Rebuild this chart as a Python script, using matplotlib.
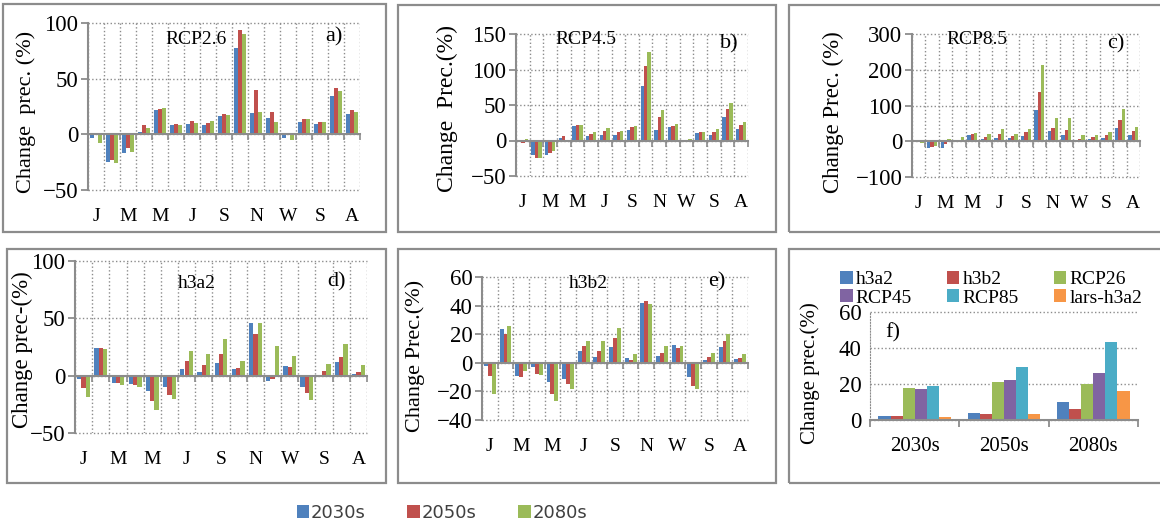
import numpy as np
import matplotlib
matplotlib.use("Agg")
import matplotlib.pyplot as plt
from matplotlib.patches import Rectangle

plt.rcParams['font.family'] = 'Liberation Serif'

# 17 categories: 12 months, 4 seasons, annual
categories = ["Jan", "Feb", "Mar", "Apr", "May", "Jun", "Jul", "Aug", "Sep",
              "Oct", "Nov", "Dec", "Win", "Spr", "Sum", "Aut", "Ann"]
tick_labels = ["J", "M", "M", "J", "S", "N", "W", "S", "A"]
periods = ["2030s", "2050s", "2080s"]
period_colors = ["#4F81BD", "#C0504D", "#9BBB59"]

# values per period (2030s, 2050s, 2080s)
rcp26 = [
    [-3.5, -25, -17, 2, 22, 8, 9, 8.5, 16.5, 77.5, 19.5, 14.5, -3, 11, 9.5, 34.5, 18],
    [0, -23, -12.5, 8, 23, 9, 12, 10, 18, 94, 40, 20, 1, 14, 11.5, 42, 22],
    [-7.5, -26, -16, 6, 24, 8, 10, 12, 17, 90, 20, 11, -5.5, 14, 11, 39, 20],
]
rcp45 = [
    [0.5, -21, -20.5, 4, 21, 6, 7.5, 7.5, 14.5, 76.5, 15, 19, 0.3, 11, 8, 33, 16.5],
    [-3, -25, -17, 6, 22.5, 8.5, 13.5, 11.5, 19, 104.5, 33.5, 20, 0.3, 12, 12, 45, 22.5],
    [2, -25, -15, 0.5, 22.5, 11.5, 18, 13, 21, 125, 43, 23.5, 1.5, 11.5, 15.5, 53, 26],
]
rcp85 = [
    [-2, -20, -20, 0.5, 17, 6.5, 9, 9.5, 15, 87, 28, 18.5, 0.5, 6.5, 9.5, 36.5, 18],
    [-2, -16, -9, 0.5, 19.5, 12, 19.5, 15, 24.5, 138, 37, 32, 6.5, 12, 17, 59, 28],
    [-4.5, -13, 5.5, 11, 24, 21.5, 33, 21.5, 35.5, 213, 66, 65, 18.5, 18, 26, 89, 39],
]
h3a2 = [
    [-3, 24, -6, -7, -13.5, -10, 6, 3.5, 11, 6, 46, -5, 8.5, -10, 0.5, 12, 1.5],
    [-11, 24.5, -6, -8, -22, -16.5, 12.5, 9, 19, 6.5, 36, -2.5, 7.5, -15.5, 4, 16, 3.5],
    [-18.5, 23.5, -8, -10, -30, -20, 21.5, 19, 32, 13, 46, 26, 17, -21, 10.5, 27.5, 9.5],
]
h3b2 = [
    [-2, 23.5, -9.5, -3, -13.5, -11, 8.5, 4, 11, 3.5, 42, 4.5, 12.5, -10, 2, 11, 2.5],
    [-9, 20, -10, -8, -22, -14.5, 11.5, 8.5, 17.5, 2, 43, 7, 10.5, -16.5, 4, 15, 3.5],
    [-21.5, 26, -6, -8.5, -26.5, -18, 15.5, 15.5, 24.5, 6, 41, 11.5, 11.5, -18, 7, 20, 6],
]

# panel f: mean annual change per scenario
scenarios = ["h3a2", "h3b2", "RCP26", "RCP45", "RCP85", "lars-h3a2"]
scenario_colors = ["#4F81BD", "#C0504D", "#9BBB59", "#8064A2", "#4BACC6", "#F79646"]
h3a2_f = [2, 4, 9.8]
h3b2_f = [2.3, 3.5, 6]
rcp26_f = [18, 21, 20]
rcp45_f = [17, 22.5, 26]
rcp85_f = [19, 29.5, 43.5]
lars_f = [1.5, 3.5, 16]
panel_f = [h3a2_f, h3b2_f, rcp26_f, rcp45_f, rcp85_f, lars_f]

W, H = 1160, 525
GRAY = "#8c8c8c"

fig = plt.figure(figsize=(W / 100, H / 100), dpi=100)


def box(x0, y0, x1, y1):
    return [x0 / W, 1 - y1 / H, (x1 - x0) / W, (y1 - y0) / H]


def ftext(x, y, s, **kw):
    fig.text(x / W, 1 - y / H, s, ha='center', va='center', **kw)


# panel frames
for x0, y0, x1, y1 in [(3, 4, 386, 232), (398, 5, 776, 232), (789, 5, 1163, 232),
                       (7, 249, 386, 483), (398, 249, 776, 483), (789, 249, 1163, 483)]:
    fig.patches.append(Rectangle((x0 / W, 1 - y1 / H), (x1 - x0) / W, (y1 - y0) / H,
                                 transform=fig.transFigure, fill=False,
                                 edgecolor=GRAY, lw=1.6))


def month_panel(rect, data, ylim, step):
    ax = fig.add_axes(box(*rect))
    x = np.arange(len(categories))
    bars = []
    for i, (vals, c) in enumerate(zip(data, period_colors)):
        bars.append(ax.bar(x + (i - 1) * 0.25, vals, width=0.25, color=c))
    ax.set_xlim(-0.5, len(categories) - 0.5)
    ax.set_ylim(*ylim)
    ax.set_yticks(np.arange(ylim[0], ylim[1] + 1, step))
    ax.set_xticks(np.arange(len(categories) + 1) - 0.5)
    ax.set_xticklabels([])
    ax.set_axisbelow(True)
    ax.grid(True, ls=':', color=GRAY, lw=1)
    for gl in ax.get_xgridlines() + ax.get_ygridlines():
        gl.set_clip_on(False)
    ax.spines['bottom'].set_position(('data', 0))
    ax.spines['bottom'].set_color(GRAY)
    ax.spines['bottom'].set_linewidth(1.5)
    ax.spines['left'].set_color(GRAY)
    ax.spines['left'].set_linewidth(1.5)
    ax.spines['top'].set_visible(False)
    ax.spines['right'].set_visible(False)
    ax.tick_params(axis='y', length=5, width=1.3, color=GRAY, labelsize=16.5, pad=2)
    ax.tick_params(axis='x', length=4, width=1.2, color=GRAY)
    sec = ax.secondary_xaxis('bottom')
    sec.set_xticks(x[::2], tick_labels)
    sec.tick_params(length=0, pad=13, labelsize=14)
    sec.spines['bottom'].set_visible(False)
    return bars


bars_a = month_panel((88, 23, 360, 190), rcp26, (-50, 100), 50)
month_panel((516, 34, 748, 176), rcp45, (-50, 150), 50)
month_panel((912, 34, 1140, 177), rcp85, (-100, 300), 100)
month_panel((75, 261, 367, 433), h3a2, (-50, 100), 50)
month_panel((482, 277, 748, 420), h3b2, (-40, 60), 20)

# panel f
axf = fig.add_axes(box(870, 312, 1138, 420))
xf = np.arange(len(periods))
bw = 0.135
bars_f = []
for i, (vals, c) in enumerate(zip(panel_f, scenario_colors)):
    bars_f.append(axf.bar(xf + (i - 2.5) * bw, vals, width=bw, color=c))
axf.set_xlim(-0.5, 2.5)
axf.set_ylim(0, 60)
axf.set_yticks([0, 20, 40, 60])
axf.set_xticks(xf, periods)
axf.set_xticks(np.arange(4) - 0.5, minor=True)
axf.set_axisbelow(True)
axf.grid(True, axis='y', ls=':', color=GRAY, lw=1)
for gl in axf.get_ygridlines():
    gl.set_clip_on(False)
axf.spines['left'].set_linestyle(':')
axf.spines['left'].set_color(GRAY)
axf.spines['bottom'].set_color(GRAY)
axf.spines['bottom'].set_linewidth(1.5)
axf.spines['top'].set_visible(False)
axf.spines['right'].set_visible(False)
axf.tick_params(axis='y', length=0, labelsize=16.5, pad=6)
axf.tick_params(axis='x', which='major', length=0, labelsize=15, pad=12)
axf.tick_params(axis='x', which='minor', length=5, width=1.3, color=GRAY)

order = [0, 3, 1, 4, 2, 5]
axf.legend([bars_f[i] for i in order], [scenarios[i] for i in order],
           loc='upper left', bbox_to_anchor=(840 / W, 1 - 271 / H),
           bbox_transform=fig.transFigure, ncol=3, frameon=False,
           borderpad=0, borderaxespad=0, handlelength=0.65, handleheight=0.65,
           handletextpad=0.15, columnspacing=1.8, labelspacing=0.05, fontsize=14)

# y labels
ftext(26, 112, "Change  prec. (%)", rotation=90, fontsize=16)
ftext(447, 108, "Change  Prec.(%)", rotation=90, fontsize=17)
ftext(833, 112, "Change Prec. (%)", rotation=90, fontsize=16.5)
ftext(22, 350, "Change prec-(%)", rotation=90, fontsize=16.5)
ftext(415, 356, "Change Prec.(%)", rotation=90, fontsize=16)
ftext(810, 373, "Change prec.(%)", rotation=90, fontsize=15)

# panel titles and letters
ftext(196, 39, "RCP2.6", fontsize=14)
ftext(334, 37, "a)", fontsize=16)
ftext(586, 40, "RCP4.5", fontsize=14)
ftext(729, 44, "b)", fontsize=16)
ftext(977, 40, "RCP8.5", fontsize=14)
ftext(1116, 44, "c)", fontsize=16)
ftext(197, 283, "h3a2", fontsize=14)
ftext(336, 282, "d)", fontsize=16)
ftext(588, 283, "h3b2", fontsize=14)
ftext(717, 282, "e)", fontsize=16)
ftext(893, 333, "f)", fontsize=16)

# common legend
fig.legend(bars_a, periods, loc='center', bbox_to_anchor=(442 / W, 1 - 513 / H),
           ncol=3, frameon=False, handlelength=0.7, handleheight=0.7,
           handletextpad=0.1, columnspacing=2.3, labelcolor='#404040',
           prop={'family': 'DejaVu Sans', 'size': 13})

fig.savefig("out.png", dpi=100)
